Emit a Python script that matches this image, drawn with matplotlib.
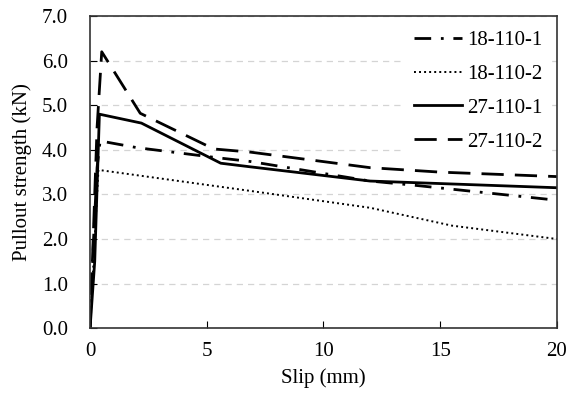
import matplotlib.pyplot as plt
from matplotlib.ticker import FormatStrFormatter

plt.rcParams['font.family'] = ['Liberation Serif', 'DejaVu Serif']

# ---- data ----
slip_18_1 = [0, 0.15, 0.3, 0.43, 2.0, 5.5, 6.85, 12.0, 14.0, 20.0]
load_18_1 = [0, 2.0, 3.6, 4.2, 4.05, 3.82, 3.74, 3.3, 3.2, 2.87]

slip_18_2 = [0, 0.15, 0.3, 0.36, 6.85, 12.0, 15.5, 20.0]
load_18_2 = [0, 1.5, 3.0, 3.55, 3.08, 2.7, 2.3, 2.0]

slip_27_1 = [0, 0.2, 0.4, 2.2, 5.6, 6.85, 12.0, 20.0]
load_27_1 = [0, 1.5, 4.8, 4.6, 3.7, 3.62, 3.3, 3.15]

slip_27_2 = [0, 0.3, 0.5, 2.15, 5.3, 6.85, 12.0, 15.0, 20.0]
load_27_2 = [0, 4.5, 6.2, 4.82, 4.02, 3.95, 3.6, 3.5, 3.4]

labels = ["18-110-1", "18-110-2", "27-110-1", "27-110-2"]

FS = 15

fig = plt.figure(figsize=(5.7, 3.93), dpi=100)
ax = fig.add_axes([0.158, 0.165, 0.819, 0.794])

ax.plot(slip_18_1, load_18_1, color="black", lw=2, dashes=(6, 3.5, 1, 3.5), label=labels[0])
ax.plot(slip_18_2, load_18_2, color="black", lw=1.4, dashes=(1, 1.6), label=labels[1])
ax.plot(slip_27_1, load_27_1, color="black", lw=2, label=labels[2])
ax.plot(slip_27_2, load_27_2, color="black", lw=2, dashes=(8, 4), label=labels[3])

ax.set_xlim(0, 20)
ax.set_ylim(0, 7)
ax.set_xticks([0, 5, 10, 15, 20])
ax.set_yticks([0, 1, 2, 3, 4, 5, 6, 7])
ax.yaxis.set_major_formatter(FormatStrFormatter("%.1f"))
ax.grid(axis="y", color="#d4d4d4", linestyle=(0, (5, 4)), lw=0.9)
ax.tick_params(direction="in", length=5, labelsize=FS)
ax.tick_params(axis="y", pad=16)
ax.tick_params(axis="x", pad=10)

for s in ax.spines.values():
    s.set_color("#333333")
    s.set_linewidth(1.2)

ax.set_xlabel("Slip (mm)", fontsize=FS, labelpad=5)
ax.set_ylabel("Pullout strength (kN)", fontsize=FS, labelpad=7)

leg = ax.legend(loc="upper right", fontsize=FS, frameon=True, fancybox=False,
                edgecolor="white", framealpha=1, handlelength=2.3,
                labelspacing=0.68, borderaxespad=0.3, handletextpad=0.25)

fig.savefig("out.png", dpi=100)
